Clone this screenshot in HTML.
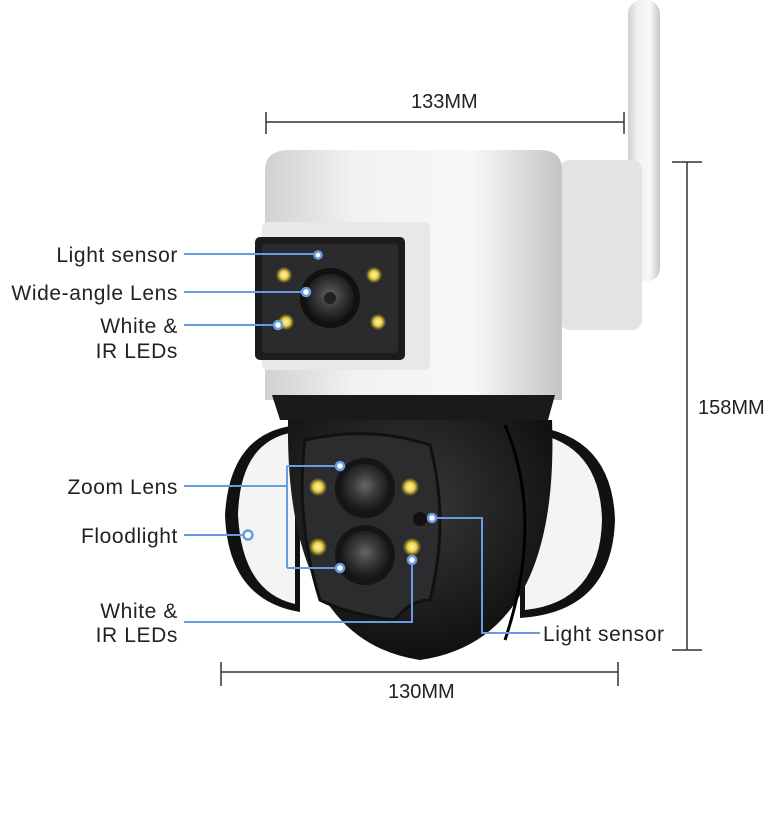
<!DOCTYPE html>
<html><head><style>
html,body{margin:0;padding:0;background:#fff;width:768px;height:822px;overflow:hidden}
svg text{font-family:"Liberation Sans",sans-serif;font-size:21px;fill:#222;letter-spacing:0.6px}
</style></head><body>
<svg width="768" height="822" viewBox="0 0 768 822" xmlns="http://www.w3.org/2000/svg">
<defs>
<linearGradient id="wh" x1="0" x2="1"><stop offset="0" stop-color="#cfd0d2"/><stop offset="0.3" stop-color="#f2f2f3"/><stop offset="0.7" stop-color="#f7f7f8"/><stop offset="1" stop-color="#c4c5c7"/></linearGradient>
<radialGradient id="bk" cx="0.45" cy="0.35" r="0.7"><stop offset="0" stop-color="#3a3a3c"/><stop offset="1" stop-color="#0c0c0d"/></radialGradient>
<radialGradient id="led"><stop offset="0" stop-color="#fff6b0"/><stop offset="0.5" stop-color="#e8d24a"/><stop offset="0.75" stop-color="#8a7a2a"/><stop offset="1" stop-color="#333"/></radialGradient>
<radialGradient id="lens" cx="0.5" cy="0.45"><stop offset="0" stop-color="#666"/><stop offset="0.5" stop-color="#3b3b3d"/><stop offset="1" stop-color="#1a1a1b"/></radialGradient>
</defs>
<rect x="628" y="0" width="32" height="282" rx="14" fill="url(#wh)"/>
<rect x="560" y="160" width="82" height="170" rx="10" fill="#e2e3e5"/>
<path d="M265 170 Q265 150 290 150 L540 150 Q562 150 562 170 L562 400 L265 400 Z" fill="url(#wh)"/>
<path d="M272 395 L555 395 L548 420 L280 420 Z" fill="#1a1a1b"/>
<rect x="262" y="222" width="168" height="148" rx="6" fill="#e8e8ea"/>
<rect x="255" y="237" width="150" height="123" rx="5" fill="#1c1c1e"/>
<rect x="262" y="244" width="136" height="109" rx="4" fill="#2b2b2d"/>
<circle cx="330" cy="298" r="30" fill="#111"/>
<circle cx="330" cy="298" r="24" fill="url(#lens)"/>
<circle cx="330" cy="298" r="6" fill="#222"/>
<circle cx="284" cy="275" r="8" fill="url(#led)"/>
<circle cx="374" cy="275" r="8" fill="url(#led)"/>
<circle cx="286" cy="322" r="8" fill="url(#led)"/>
<circle cx="378" cy="322" r="8" fill="url(#led)"/>
<path d="M300 425 Q230 430 225 515 Q228 600 300 612 Z" fill="#111"/>
<path d="M295 432 Q240 440 238 515 Q242 592 295 604 Z" fill="#f4f4f5"/>
<path d="M520 425 Q612 430 615 520 Q612 612 520 618 Z" fill="#111"/>
<path d="M525 432 Q600 440 602 520 Q600 602 525 610 Z" fill="#f4f4f5"/>
<path d="M288 420 L552 420 Q560 640 420 660 Q285 640 288 420 Z" fill="url(#bk)"/>
<path d="M505 425 Q545 520 505 640" stroke="#000" stroke-width="3" fill="none"/>
<path d="M305 440 Q370 425 430 445 Q450 520 430 600 Q410 600 395 620 Q350 615 320 600 Q295 520 305 440 Z" fill="#2c2c2e" stroke="#111" stroke-width="3"/>
<circle cx="365" cy="488" r="30" fill="#151516"/><circle cx="365" cy="488" r="24" fill="url(#lens)"/>
<circle cx="365" cy="555" r="30" fill="#151516"/><circle cx="365" cy="555" r="24" fill="url(#lens)"/>
<circle cx="318" cy="487" r="9" fill="url(#led)"/>
<circle cx="410" cy="487" r="9" fill="url(#led)"/>
<circle cx="318" cy="547" r="9" fill="url(#led)"/>
<circle cx="412" cy="547" r="9" fill="url(#led)"/>
<circle cx="420" cy="519" r="7" fill="#111"/>
<g stroke="#333" stroke-width="1.5" fill="none">
<path d="M266 122 H624 M266 112 V134 M624 112 V134"/>
<path d="M687 162 V650 M672 162 H702 M672 650 H702"/>
<path d="M221 672 H618 M221 662 V686 M618 662 V686"/>
</g>
<text x="411" y="108" style="font-size:20px;letter-spacing:0">133MM</text>
<text x="698" y="414" style="font-size:20px;letter-spacing:0">158MM</text>
<text x="388" y="698" style="font-size:20px;letter-spacing:0">130MM</text>
<g stroke="#6a9ae0" stroke-width="2" fill="none">
<path d="M184 254 H318"/>
<path d="M184 292 H306"/>
<path d="M184 325 H278"/>
<path d="M184 486 H287 M287 466 V568 M287 466 H340 M287 568 H340"/>
<path d="M184 535 H244"/>
<path d="M184 622 H412 V560"/>
<path d="M432 518 H482 V633 H540"/>
</g>
<g fill="#fff" stroke="#6a9ae0" stroke-width="2.5">
<circle cx="318" cy="255" r="3.5"/><circle cx="306" cy="292" r="4"/><circle cx="278" cy="325" r="4"/>
<circle cx="340" cy="466" r="4"/><circle cx="340" cy="568" r="4"/><circle cx="248" cy="535" r="4.5"/>
<circle cx="412" cy="560" r="4"/><circle cx="432" cy="518" r="4"/>
</g>
<g text-anchor="end">
<text x="178" y="262">Light sensor</text>
<text x="178" y="300">Wide-angle Lens</text>
<text x="178" y="333">White &amp;</text>
<text x="178" y="358">IR LEDs</text>
<text x="178" y="494">Zoom Lens</text>
<text x="178" y="543">Floodlight</text>
<text x="178" y="618">White &amp;</text>
<text x="178" y="642">IR LEDs</text>
</g>
<text x="543" y="641">Light sensor</text>
</svg>
</body></html>
